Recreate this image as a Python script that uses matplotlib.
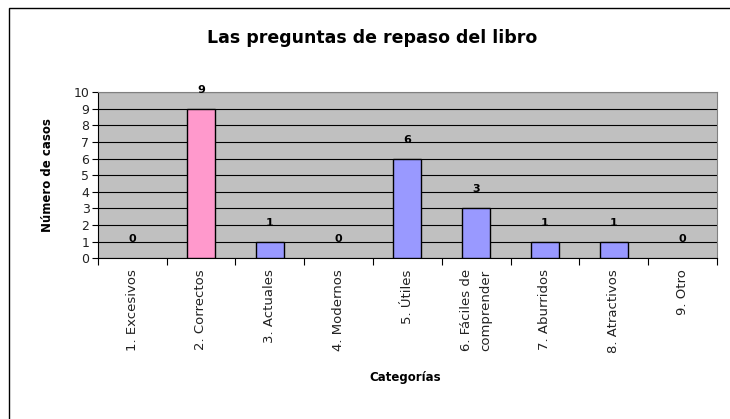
import matplotlib.pyplot as plt
import numpy as np
from matplotlib.patches import Rectangle

categorias = ["1. Excesivos", "2. Correctos", "3. Actuales", "4. Modernos", "5. Útiles",
              "6. Fáciles de\ncomprender", "7. Aburridos", "8. Atractivos", "9. Otro"]
casos = [0, 9, 1, 0, 6, 3, 1, 1, 0]
colores = ["#9999FF", "#FF99CC", "#9999FF", "#9999FF", "#9999FF",
           "#9999FF", "#9999FF", "#9999FF", "#9999FF"]

plt.rcParams['font.family'] = ['DejaVu Sans']

fig = plt.figure(figsize=(7.30, 4.19), dpi=100)
fig.patches.append(Rectangle((0.013, -0.05), 1.0, 1.03, transform=fig.transFigure,
                             fill=False, edgecolor='black', linewidth=1.0))

ax = fig.add_axes([0.134, 0.384, 0.848, 0.396])
ax.set_facecolor('#C0C0C0')
x = np.arange(len(categorias))
anchos = [1.0 if v > 0 else 0 for v in casos]
ax.bar(x, casos, width=0.41, color=colores, edgecolor='black', linewidth=anchos, zorder=3)

for xi, v in zip(x, casos):
    ax.annotate(str(v), (xi, v), xytext=(0, 10), textcoords='offset points',
                ha='center', va='bottom', fontsize=8, fontweight='bold')

ax.set_xlim(-0.5, len(categorias) - 0.5)
ax.set_ylim(0, 10)
ax.set_yticks(range(0, 11))
ax.yaxis.grid(True, color='black', linewidth=0.8, zorder=0)
ax.set_axisbelow(True)
ax.tick_params(axis='y', labelsize=9, length=4, width=0.8, pad=2, labelcolor='#222222')

ax.set_xticks(x)
ax.set_xticklabels(categorias, rotation=90, fontsize=9.5, linespacing=1.6, color='#222222')
ax.tick_params(axis='x', which='major', length=0, pad=8)
ax.set_xticks(np.arange(-0.5, len(categorias)), minor=True)
ax.tick_params(axis='x', which='minor', length=5, width=0.8)

for s in ['top', 'right']:
    ax.spines[s].set_color('#808080')
ax.spines['left'].set_color('black')
ax.spines['bottom'].set_color('black')

ax.set_ylabel("Número de casos", fontsize=8.5, fontweight='bold', labelpad=14)
fig.text(0.555, 0.098, "Categorías", ha='center', va='center', fontsize=8.5, fontweight='bold')
fig.text(0.51, 0.909, "Las preguntas de repaso del libro", ha='center', va='center',
         fontsize=12.5, fontweight='bold')

fig.savefig("out.png", dpi=100)
